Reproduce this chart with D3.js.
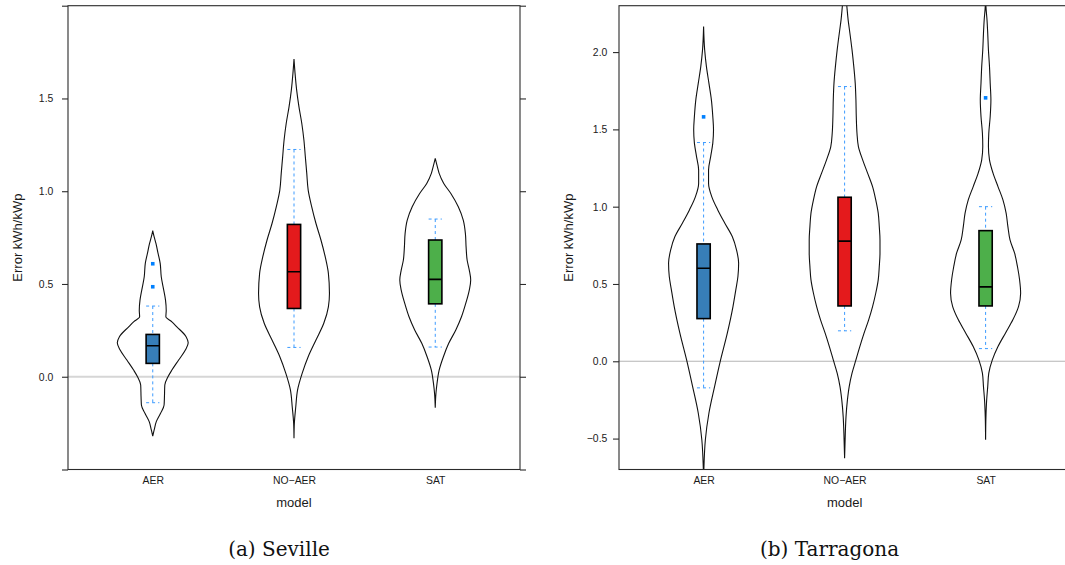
<!DOCTYPE html>
<html><head><meta charset="utf-8">
<script src="https://cdn.jsdelivr.net/npm/d3@7"></script>
<style>body{margin:0;background:#fff}svg{display:block}</style>
</head><body>
<svg id="chart" width="1065" height="565"></svg>
<script>
// ---------------- DATA ----------------
const categories = ["AER", "NO\u2212AER", "SAT"];
const captions = ["(a) Seville", "(b) Tarragona"];
const yTitle = "Error kWh/kWp";
const xTitle = "model";
const boxColors = ["#377EB8", "#E41A1C", "#4DAF4A"];

const sevilleDomain = [-0.5, 2.0];
const sevilleTicks = [-0.5, 0, 0.5, 1.0, 1.5, 2.0];
const sevilleTickLabels = ["", "0.0", "0.5", "1.0", "1.5", ""];
const tarragonaDomain = [-0.7, 2.3];
const tarragonaTicks = [-0.5, 0, 0.5, 1.0, 1.5, 2.0];
const tarragonaTickLabels = ["\u22120.5", "0.0", "0.5", "1.0", "1.5", "2.0"];

// box statistics: [lower whisker, Q1, median, Q3, upper whisker]
const sevilleBoxes = [
  [-0.14, 0.072, 0.167, 0.228, 0.381],
  [0.158, 0.368, 0.566, 0.821, 1.225],
  [0.16, 0.393, 0.525, 0.737, 0.85]
];
const sevilleOutliers = [[0.609, 0.485], [], []];
const tarragonaBoxes = [
  [-0.172, 0.276, 0.602, 0.759, 1.415],
  [0.197, 0.358, 0.777, 1.061, 1.777],
  [0.082, 0.358, 0.481, 0.845, 1.0]
];
const tarragonaOutliers = [[1.581], [], [1.704]];

// violin density profiles: [value, relative density]
const sevilleAER = [
  [0.787,0],[0.754,0.04],[0.719,0.09],[0.665,0.15],[0.611,0.21],[0.539,0.24],[0.467,0.31],
  [0.413,0.36],[0.359,0.38],[0.323,0.37],[0.296,0.54],[0.269,0.68],[0.216,0.94],[0.183,1.0],
  [0.144,0.92],[0.09,0.73],[0.036,0.54],[0.0,0.43],[-0.045,0.34],[-0.108,0.33],[-0.152,0.32],
  [-0.197,0.22],[-0.242,0.10],[-0.287,0.04],[-0.32,0]
];
const sevilleNOAER = [
  [1.712,0],[1.635,0.03],[1.545,0.075],[1.455,0.14],[1.365,0.22],[1.275,0.28],[1.185,0.32],
  [1.096,0.36],[1.006,0.40],[0.916,0.50],[0.826,0.62],[0.737,0.76],[0.647,0.88],[0.557,0.97],
  [0.449,1.0],[0.377,0.97],[0.288,0.84],[0.198,0.62],[0.108,0.40],[0.018,0.23],[-0.072,0.10],
  [-0.162,0.05],[-0.251,0.01],[-0.332,0]
];
const sevilleSAT = [
  [1.177,0],[1.131,0.06],[1.096,0.11],[1.042,0.24],[0.988,0.44],[0.916,0.65],[0.844,0.79],
  [0.773,0.85],[0.700,0.87],[0.628,0.90],[0.575,0.96],[0.521,1.0],[0.467,0.96],[0.395,0.86],
  [0.323,0.74],[0.252,0.58],[0.180,0.38],[0.108,0.23],[0.036,0.11],[-0.036,0.05],[-0.089,0.02],
  [-0.167,0]
];
const tarragonaAER = [
  [2.165,0],[2.014,0.03],[1.906,0.08],[1.799,0.15],[1.691,0.22],[1.583,0.26],[1.497,0.28],
  [1.411,0.26],[1.324,0.20],[1.238,0.14],[1.152,0.14],[1.065,0.23],[0.979,0.40],[0.893,0.60],
  [0.807,0.81],[0.721,0.93],[0.635,0.99],[0.548,0.97],[0.462,0.91],[0.354,0.83],[0.182,0.67],
  [0.009,0.48],[-0.164,0.31],[-0.336,0.15],[-0.508,0.05],[-0.681,0.01],[-0.8,0]
];
const tarragonaNOAER = [
  [2.45,0],[2.40,0.02],[2.305,0.06],[2.208,0.10],[2.122,0.15],[2.014,0.21],[1.906,0.26],
  [1.799,0.30],[1.691,0.32],[1.583,0.33],[1.475,0.35],[1.389,0.39],[1.303,0.51],[1.217,0.65],
  [1.130,0.79],[1.044,0.88],[0.958,0.95],[0.871,0.98],[0.785,1.0],[0.699,1.0],[0.613,0.98],
  [0.527,0.95],[0.440,0.88],[0.354,0.79],[0.268,0.68],[0.182,0.55],[0.095,0.43],[0.009,0.32],
  [-0.077,0.21],[-0.164,0.13],[-0.250,0.08],[-0.358,0.04],[-0.465,0.02],[-0.627,0]
];
const tarragonaSAT = [
  [2.40,0],[2.294,0.01],[2.208,0.04],[2.122,0.06],[2.014,0.08],[1.906,0.11],[1.799,0.13],
  [1.691,0.15],[1.583,0.13],[1.475,0.09],[1.389,0.08],[1.303,0.11],[1.217,0.21],[1.130,0.35],
  [1.044,0.49],[0.958,0.58],[0.871,0.63],[0.785,0.69],[0.699,0.82],[0.613,0.90],[0.527,0.96],
  [0.440,0.99],[0.354,0.93],[0.268,0.77],[0.182,0.56],[0.095,0.35],[0.009,0.19],[-0.077,0.09],
  [-0.164,0.06],[-0.250,0.03],[-0.358,0.01],[-0.508,0]
];

// ---------------- DRAWING ----------------
const svg = d3.select("#chart");
const sans = "'Liberation Sans', Arial, Helvetica, sans-serif";

const panels = [
  {left: 68, right: 520, top: 5.7, bottom: 469.5, domain: sevilleDomain, ticks: sevilleTicks,
   labels: sevilleTickLabels, boxes: sevilleBoxes, outliers: sevilleOutliers,
   violins: [sevilleAER, sevilleNOAER, sevilleSAT], caption: captions[0], captionX: 279,
   tickPad: 8.7, titleX: 21.8, zeroCol: "#d6d6d6", zeroW: 1.8},
  {left: 619, right: 1070.2, top: 5.7, bottom: 469.5, domain: tarragonaDomain, ticks: tarragonaTicks,
   labels: tarragonaTickLabels, boxes: tarragonaBoxes, outliers: tarragonaOutliers,
   violins: [tarragonaAER, tarragonaNOAER, tarragonaSAT], caption: captions[1], captionX: 829.5,
   tickPad: 5.7, titleX: 573, zeroCol: "#b5b5b5", zeroW: 1.1}
];

panels.forEach((p, pi) => {
  const x = d3.scalePoint().domain(categories).range([p.left, p.right]).padding(0.6);
  const y = d3.scaleLinear().domain(p.domain).range([p.bottom, p.top]);
  const w = d3.scaleLinear().domain([0, 1]).range([0, 0.251 * x.step()]);
  const halfBox = 0.047 * x.step();

  const clipId = "clip" + pi;
  svg.append("clipPath").attr("id", clipId).append("rect")
    .attr("x", p.left).attr("y", p.top)
    .attr("width", p.right - p.left).attr("height", p.bottom - p.top);

  const g = svg.append("g").attr("clip-path", `url(#${clipId})`);

  // reference line at zero
  g.append("line")
    .attr("x1", p.left).attr("x2", p.right)
    .attr("y1", y(0)).attr("y2", y(0))
    .attr("stroke", p.zeroCol).attr("stroke-width", p.zeroW);

  // violins
  categories.forEach((c, ci) => {
    const cx = x(c);
    const area = d3.area()
      .y(d => y(d[0]))
      .x0(d => cx - w(d[1]))
      .x1(d => cx + w(d[1]))
      .curve(d3.curveMonotoneY);
    g.append("path")
      .datum(p.violins[ci].slice().sort((a, b) => b[0] - a[0]))
      .attr("d", area)
      .attr("fill", "none")
      .attr("stroke", "#111")
      .attr("stroke-width", 1.1);
  });

  // box-and-whiskers
  categories.forEach((c, ci) => {
    const cx = x(c);
    const [lo, q1, med, q3, hi] = p.boxes[ci];
    const wh = g.append("g").attr("stroke", "#3d9bff").attr("stroke-width", 1)
      .attr("stroke-dasharray", "3,3").attr("fill", "none");
    wh.append("line").attr("x1", cx).attr("x2", cx).attr("y1", y(hi)).attr("y2", y(q3));
    wh.append("line").attr("x1", cx).attr("x2", cx).attr("y1", y(q1)).attr("y2", y(lo));
    wh.append("line").attr("x1", cx - halfBox).attr("x2", cx + halfBox).attr("y1", y(hi)).attr("y2", y(hi));
    wh.append("line").attr("x1", cx - halfBox).attr("x2", cx + halfBox).attr("y1", y(lo)).attr("y2", y(lo));

    g.append("rect")
      .attr("x", cx - halfBox).attr("width", 2 * halfBox)
      .attr("y", y(q3)).attr("height", y(q1) - y(q3))
      .attr("fill", boxColors[ci]).attr("stroke", "#000").attr("stroke-width", 1.6);
    g.append("line")
      .attr("x1", cx - halfBox).attr("x2", cx + halfBox)
      .attr("y1", y(med)).attr("y2", y(med))
      .attr("stroke", "#000").attr("stroke-width", 1.6);

    p.outliers[ci].forEach(v => {
      g.append("rect")
        .attr("x", cx - 1.8).attr("y", y(v) - 1.8)
        .attr("width", 3.6).attr("height", 3.6)
        .attr("fill", "#0080ff");
    });
  });

  // panel border
  svg.append("rect")
    .attr("x", p.left).attr("y", p.top)
    .attr("width", p.right - p.left).attr("height", p.bottom - p.top)
    .attr("fill", "none").attr("stroke", "#2b2b2b").attr("stroke-width", 1.1);

  // y axis (left, labelled)
  const ya = svg.append("g").attr("transform", `translate(${p.left},0)`)
    .call(d3.axisLeft(y).tickValues(p.ticks).tickSize(6).tickPadding(p.tickPad)
      .tickFormat((d, i) => p.labels[i]));
  // y axis (right, ticks only)
  const yb = svg.append("g").attr("transform", `translate(${p.right},0)`)
    .call(d3.axisRight(y).tickValues(p.ticks).tickSize(6).tickFormat(() => ""));
  [ya, yb].forEach(a => {
    a.select(".domain").remove();
    a.selectAll(".tick line").attr("stroke", "#2b2b2b").attr("stroke-width", 1.1);
    a.selectAll("text").attr("font-family", sans).attr("font-size", "10.4px").attr("fill", "#1a1a1a");
  });

  // x axis labels
  const xa = svg.append("g").attr("transform", `translate(0,${p.bottom})`)
    .call(d3.axisBottom(x).tickSize(0).tickPadding(7.3));
  xa.select(".domain").remove();
  xa.selectAll(".tick line").remove();
  xa.selectAll("text").attr("font-family", sans).attr("font-size", "10.4px").attr("fill", "#1a1a1a");

  // axis titles
  svg.append("text")
    .attr("transform", `translate(${p.titleX},${(p.top + p.bottom) / 2}) rotate(-90)`)
    .attr("text-anchor", "middle")
    .attr("font-family", sans).attr("font-size", "13px").attr("fill", "#1a1a1a")
    .text(yTitle);
  svg.append("text")
    .attr("x", x(categories[1])).attr("y", 506.5)
    .attr("text-anchor", "middle")
    .attr("font-family", sans).attr("font-size", "13px").attr("fill", "#1a1a1a")
    .text(xTitle);

  // caption
  svg.append("text")
    .attr("x", p.captionX).attr("y", 556)
    .attr("text-anchor", "middle")
    .attr("font-family", "'DejaVu Serif', serif").attr("font-size", "20px").attr("fill", "#111")
    .text(p.caption);
});
</script>
</body></html>
